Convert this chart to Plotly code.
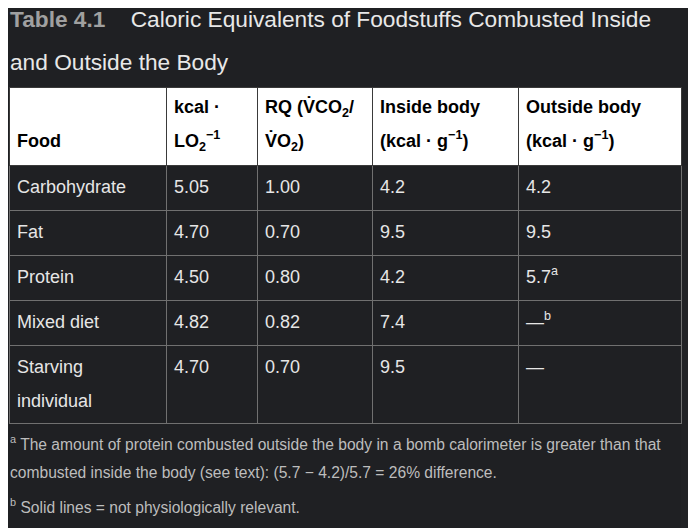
import plotly.graph_objects as go

# Table data
foods = ["Carbohydrate", "Fat", "Protein", "Mixed diet", "Starving<br>individual"]
kcal_per_lo2 = ["5.05", "4.70", "4.50", "4.82", "4.70"]
rq = ["1.00", "0.70", "0.80", "0.82", "0.70"]
inside_body = ["4.2", "9.5", "4.2", "7.4", "9.5"]
outside_body = ["4.2", "9.5", "5.7<sup>a</sup>", "—<sup>b</sup>", "—"]

headers = [
    "\u00a0<br>Food",
    "kcal ·<br>LO<sub>2</sub><sup>−1</sup>",
    "RQ (V̇CO<sub>2</sub>/<br>V̇O<sub>2</sub>)",
    "Inside body<br>(kcal · g<sup>−1</sup>)",
    "Outside body<br>(kcal · g<sup>−1</sup>)",
]

title_main = "Caloric Equivalents of Foodstuffs Combusted Inside"
title_cont = "and Outside the Body"
note_a = "<sup>a</sup> The amount of protein combusted outside the body in a bomb calorimeter is greater than that"
note_a2 = "combusted inside the body (see text): (5.7 − 4.2)/5.7 = 26% difference."
note_b = "<sup>b</sup> Solid lines = not physiologically relevant."

BG = "#1f2023"
FONT = "Liberation Sans, Arial, sans-serif"


def strut(size):
    # invisible non-breaking space; plotly aligns the text box top to the cell pad,
    # so a taller (invisible) glyph pushes the visible text down / grows the row
    return "<span style='font-size:%spx'>\u00a0</span>" % size


def cell_text(txt, bold=False, top=22.5, bottom=None):
    # each line at 18px; the cell font itself stays large so lines are spaced wide
    lines = txt.split("<br>")
    parts = []
    for i, line in enumerate(lines):
        if bold:
            line = "<b>" + line + "</b>"
        line = "<span style='font-size:18px'>" + line + "</span>"
        if i == 0:
            line += strut(top)
        if i == len(lines) - 1 and bottom and len(lines) > 1:
            line += strut(bottom)
        parts.append(line)
    out = "<br>".join(parts)
    if len(lines) == 1:
        out += "<br>"  # stops plotly's auto word-wrap from splitting the span tags
    return out


# the browser page adds an 8px body margin, so figure coords are shifted by -8
W, H = 696, 528
OFF = 8
px = lambda v: (v - OFF) / W
py = lambda v: 1 - (v - OFF) / H

fig = go.Figure(go.Table(
    columnwidth=[157, 91, 115, 146, 163],
    header=dict(
        values=[cell_text(h, bold=True, top=20.3) for h in headers],
        fill_color="white",
        line_color="#3a3a3a",
        align="left",
        font=dict(family=FONT, size=26, color="black"),
        height=78,
    ),
    cells=dict(
        values=[[cell_text(v, bottom=41) for v in col] for col in
                [foods, kcal_per_lo2, rq, inside_body, outside_body]],
        fill_color=BG,
        line_color="#707070",
        align="left",
        font=dict(family=FONT, size=26, color="#e6e6e6"),
        height=45,
    ),
    domain=dict(x=[px(9), px(681)], y=[0, py(87)]),
))

fig.add_annotation(x=px(8), y=py(19), xref="paper", yref="paper",
                   xanchor="left", yanchor="middle", showarrow=False,
                   text=("<b><span style='color:#a0a0a0'>Table 4.1</span></b>"
                         "    " + title_main),
                   font=dict(family=FONT, size=22.7, color="#e8e8e8"))
fig.add_annotation(x=px(8), y=py(62), xref="paper", yref="paper",
                   xanchor="left", yanchor="middle", showarrow=False,
                   text=title_cont, font=dict(family=FONT, size=22.7, color="#e8e8e8"))

for txt, yc in [(note_a, 443), (note_a2, 472), (note_b, 506)]:
    fig.add_annotation(x=px(8), y=py(yc), xref="paper", yref="paper",
                       xanchor="left", yanchor="middle", showarrow=False, text=txt,
                       font=dict(family=FONT, size=15.6, color="#bdbdbd"))

fig.update_layout(
    width=W, height=H,
    margin=dict(l=0, r=0, t=0, b=0),
    paper_bgcolor=BG, plot_bgcolor=BG,
)

fig.write_html("out.html")
